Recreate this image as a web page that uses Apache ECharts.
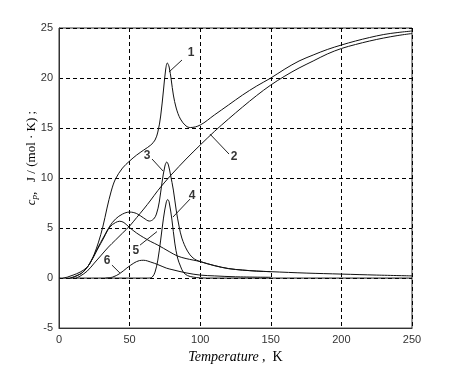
<!DOCTYPE html>
<html><head><meta charset="utf-8">
<script src="https://cdn.jsdelivr.net/npm/echarts@6/dist/echarts.min.js"></script>
<style>html,body{margin:0;padding:0;background:#fff}#c{width:450px;height:369px}</style>
</head><body><div id="c"></div>
<script>
const xTicks = [0, 50, 100, 150, 200, 250];
const yTicks = [-5, 0, 5, 10, 15, 20, 25];

const curve1 = [[3,0],[6,0.1],[10,0.3],[15,0.6],[20,1.1],[23,1.8],[25,2.4],[28,3.6],[31,5.1],[34,7.0],[37,8.7],[40,9.9],[45,11.0],[50,11.7],[55,12.3],[60,12.8],[65,13.3],[68,13.8],[70,14.6],[72,16.2],[74,18.8],[75.5,20.8],[76.7,21.5],[78,21.1],[79.5,19.8],[81,18.3],[83,17.0],[86,15.9],[90,15.2],[93,15.05],[100,15.3],[110,16.3],[120,17.3],[130,18.3],[140,19.2],[150,20.0],[160,20.9],[170,21.7],[180,22.3],[190,22.85],[200,23.3],[210,23.7],[220,24.05],[230,24.35],[240,24.55],[250,24.7]];
const curve2 = [[12,0],[15,0.2],[20,0.7],[25,1.5],[30,2.3],[35,3.1],[40,3.8],[45,4.5],[50,5.2],[55,6.05],[60,6.9],[65,7.8],[70,8.75],[75,9.6],[80,10.4],[90,11.9],[100,13.3],[110,14.65],[120,15.9],[130,17.1],[140,18.25],[150,19.3],[160,20.2],[170,21.0],[180,21.7],[190,22.4],[200,22.95],[210,23.35],[220,23.7],[230,24.0],[240,24.25],[250,24.45]];
const curve3 = [[8,0],[12,0.2],[17,0.6],[22,1.5],[27,2.9],[32,4.2],[36,5.2],[40,5.9],[45,6.4],[50,6.6],[55,6.45],[60,6.0],[64,5.7],[67,5.9],[69,6.4],[71,7.6],[73,9.6],[75,11.2],[76.3,11.6],[77.5,11.3],[79,10.3],[81,8.8],[83,6.8],[85,5.2],[87,4.0],[91,2.7],[95,2.0],[100,1.65],[110,1.25],[120,0.95],[130,0.8],[140,0.7],[150,0.64],[175,0.5],[200,0.4],[225,0.3],[250,0.22]];
const curve4 = [[0,0],[63,0],[66,0.1],[68,0.6],[70,1.8],[72,3.8],[74,6.0],[76,7.6],[77,7.85],[78,7.6],[80,5.8],[82,3.5],[84,2.0],[86,1.2],[88,0.6],[91,0.25],[95,0.1],[100,0.02],[105,0],[250,0]];
const curve5 = [[8,0],[12,0.2],[17,0.6],[22,1.5],[27,2.8],[32,4.1],[36,5.1],[40,5.55],[43,5.68],[46,5.55],[50,5.05],[55,4.5],[60,4.05],[65,3.65],[70,3.3],[78,2.65],[84,2.2],[90,1.95],[95,1.8],[100,1.65],[110,1.25],[120,0.95],[130,0.8],[140,0.7],[150,0.64]];
const curve6 = [[33,0],[38,0.1],[43,0.45],[48,1.0],[53,1.5],[57,1.75],[60,1.78],[65,1.6],[70,1.35],[76,1.0],[80,0.85],[90,0.52],[100,0.3],[110,0.22],[125,0.13],[150,0.08]];

const curveLabels = ['1','2','3','4','5','6'];
const labelPos = [[93.5,22.5],[124,12.1],[62.3,12.2],[94.2,8.2],[54.5,2.7],[34,1.7]];
const leaderFrom = [[87.1,21.8],[120.4,12.4],[65.9,11.9],[92.8,7.9],[57.4,3.3],[37.5,1.3]];
const leaderTo = [[77.9,20.6],[106.9,14.4],[73.7,10.7],[80.7,6.1],[69.4,4.65],[43.2,0.5]];

const curves = [curve1, curve2, curve3, curve4, curve5, curve6];

const chart = echarts.init(document.getElementById('c'), null, {renderer: 'canvas'});
const lineSeries = curves.map((d, i) => ({
  type: 'line', data: d, smooth: 0.35, showSymbol: false, symbol: 'none',
  lineStyle: {color: '#111', width: 1}, z: 3
}));

lineSeries.push({
  type: 'line', data: [], silent: true,
  markLine: {
    symbol: 'none', silent: true, animation: false,
    label: {show: false},
    lineStyle: {color: '#222', width: 1, type: 'solid'},
    data: leaderFrom.map((p, i) => [{coord: p}, {coord: leaderTo[i]}])
  }
});

lineSeries.push({
  type: 'scatter', symbolSize: 0.1,
  data: labelPos.map((p, i) => ({value: p, name: curveLabels[i]})),
  label: {show: true, position: 'inside', formatter: '{b}', color: '#000',
    fontFamily: 'Liberation Sans, Arial', fontWeight: 'bold', fontSize: 12},
  itemStyle: {color: 'transparent'}, z: 5
});

chart.setOption({
  animation: false,
  backgroundColor: '#fff',
  grid: {left: 59, right: 38, top: 28, bottom: 38, show: true, borderColor: '#333', borderWidth: 1},
  xAxis: {
    type: 'value', min: xTicks[0], max: xTicks[xTicks.length - 1], interval: 50,
    name: '{it|Temperature} {n|,  K}', nameLocation: 'middle', nameGap: 16,
    nameTextStyle: {rich: {
      it: {fontFamily: 'Liberation Serif, Times New Roman', fontStyle: 'italic', fontSize: 14, color: '#000'},
      n: {fontFamily: 'Liberation Serif, Times New Roman', fontSize: 14, color: '#000'}
    }},
    axisLine: {show: true, onZero: false, lineStyle: {color: '#333'}},
    axisTick: {show: false},
    axisLabel: {color: '#333', fontSize: 11, fontFamily: 'Liberation Sans, Arial', margin: 6},
    splitLine: {show: true, lineStyle: {color: '#000', type: [4, 3], width: 1}}
  },
  yAxis: {
    type: 'value', min: yTicks[0], max: yTicks[yTicks.length - 1], interval: 5,
    name: '{c|c}{p|p}{n|,   J / (mol · K) ;}', nameLocation: 'middle', nameGap: 20,
    nameMoveOverlap: false,
    nameTextStyle: {padding: [0, 0, 0, 40], rich: {
      c: {fontFamily: 'Liberation Serif, Times New Roman', fontStyle: 'italic', fontSize: 13, color: '#000'},
      p: {fontFamily: 'Liberation Serif, Times New Roman', fontStyle: 'italic', fontSize: 9, color: '#000', verticalAlign: 'bottom', padding: [6, 0, 0, 0]},
      n: {fontFamily: 'Liberation Serif, Times New Roman', fontSize: 13, color: '#000'}
    }},
    axisLine: {show: true, lineStyle: {color: '#333'}},
    axisTick: {show: false},
    axisLabel: {color: '#333', fontSize: 11, fontFamily: 'Liberation Sans, Arial', margin: 6},
    splitLine: {show: true, lineStyle: {color: '#000', type: [4, 3], width: 1}}
  },
  series: lineSeries
});
</script>
</body></html>
